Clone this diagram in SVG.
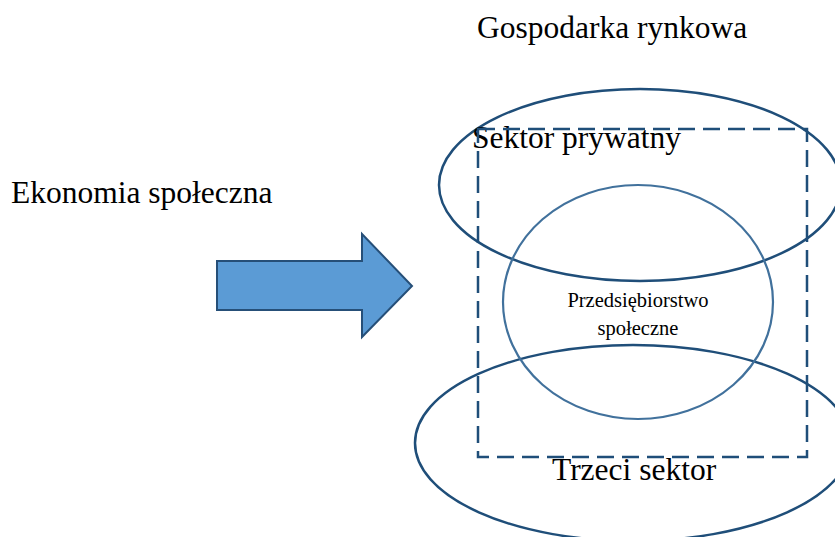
<svg xmlns="http://www.w3.org/2000/svg" width="835" height="537" viewBox="0 0 835 537">
<style>
text{font-family:"Liberation Serif","Times New Roman",serif;fill:#000}
.big{font-size:31.5px}
.small{font-size:20.5px}
.ell{fill:none;stroke:#1F4E79;stroke-width:2.5}
.circ{fill:none;stroke:#41719C;stroke-width:2.2}
.dash{fill:none;stroke:#1F4E79;stroke-width:2.5;stroke-dasharray:17,8}
</style>
<rect width="835" height="537" fill="#fff"/>
<g id="title"><text class="big" x="477" y="38">Gospodarka rynkowa</text></g>
<g id="ekonomia"><text class="big" x="11" y="203">Ekonomia społeczna</text></g>
<g id="arrow"><polygon points="217,261 362,261 362,234 412,286 362,337 362,310 217,310" fill="#5B9BD5" stroke="#264F78" stroke-width="2"/></g>
<g id="sektor-prywatny"><ellipse class="ell" cx="640" cy="185" rx="201" ry="96"/><text class="big" x="472" y="148">Sektor prywatny</text></g>
<g id="trzeci-sektor"><ellipse class="ell" cx="633" cy="443" rx="218" ry="98"/><text class="big" x="552" y="480">Trzeci sektor</text></g>
<g id="przedsiebiorstwo"><ellipse class="circ" cx="638" cy="302" rx="135" ry="117"/><text class="small" x="638" y="307" text-anchor="middle">Przedsiębiorstwo</text><text class="small" x="638" y="335" text-anchor="middle">społeczne</text></g>
<g id="gospodarka-rynkowa"><rect class="dash" x="478" y="129" width="329" height="328"/></g>
</svg>
